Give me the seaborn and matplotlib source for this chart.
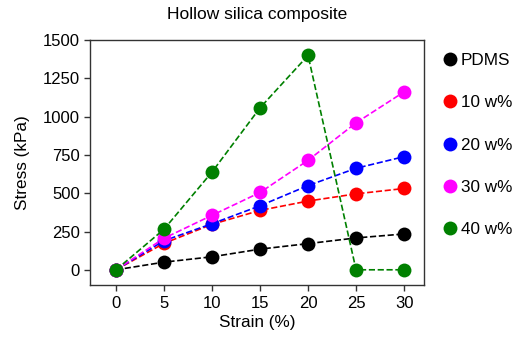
import matplotlib
matplotlib.use("Agg")
import matplotlib.pyplot as plt
import seaborn as sns
import pandas as pd
from matplotlib.lines import Line2D

strain = [0, 5, 10, 15, 20, 25, 30]
pdms = [0, 50, 85, 135, 171, 208, 234]
w10 = [0, 173, 297, 388, 449, 496, 531]
w20 = [0, 190, 301, 418, 550, 663, 739]
w30 = [0, 206, 356, 505, 715, 960, 1162]
w40 = [0, 265, 639, 1058, 1400, 0, 0]
labels = ["PDMS", "10 w%", "20 w%", "30 w%", "40 w%"]
colors = ["black", "red", "blue", "magenta", "green"]
yticks = [0, 250, 500, 750, 1000, 1250, 1500]
xticks = [0, 5, 10, 15, 20, 25, 30]

sns.set_style("ticks", {"text.color": "black", "axes.labelcolor": "black",
                        "xtick.color": "#333333", "ytick.color": "#333333"})
plt.rcParams['font.family'] = ['Liberation Sans', 'DejaVu Sans']

fig = plt.figure(figsize=(5.27, 3.46), dpi=100)
ax = fig.add_axes([0.171, 0.176, 0.634, 0.708])

series = [pdms, w10, w20, w30, w40]
for lab, col, vals in zip(labels, colors, series):
    df = pd.DataFrame({"Strain": strain, "Stress": vals})
    sns.lineplot(data=df, x="Strain", y="Stress", ax=ax, color=col,
                 linestyle="--", linewidth=1.2, marker="o", markersize=10,
                 markeredgewidth=0, legend=False)

ax.set_xlim(-2.7, 32.1)
ax.set_ylim(-100, 1500)
ax.set_xticks(xticks)
ax.set_yticks(yticks)
ax.tick_params(labelsize=12, length=4, width=1, labelcolor="black")
ax.set_xlabel("Strain (%)", fontsize=12.3, labelpad=3, color="black")
ax.set_ylabel("Stress (kPa)", fontsize=12.3, labelpad=9, color="black")
ax.set_title("Hollow silica composite", fontsize=12.5, pad=15, color="black")
for s in ax.spines.values():
    s.set_linewidth(1.0)
    s.set_color("#333333")

handles = [Line2D([], [], linestyle="none", marker="o", markersize=10,
                  markeredgewidth=0, color=c) for c in colors]
leg = ax.legend(handles, labels, loc="upper left", bbox_to_anchor=(1.035, 0.975),
                frameon=False, fontsize=12.3, labelspacing=1.6, handlelength=0.8,
                handletextpad=0.25, borderaxespad=0)
for t in leg.get_texts():
    t.set_color("black")

fig.savefig("out.png", dpi=100)
